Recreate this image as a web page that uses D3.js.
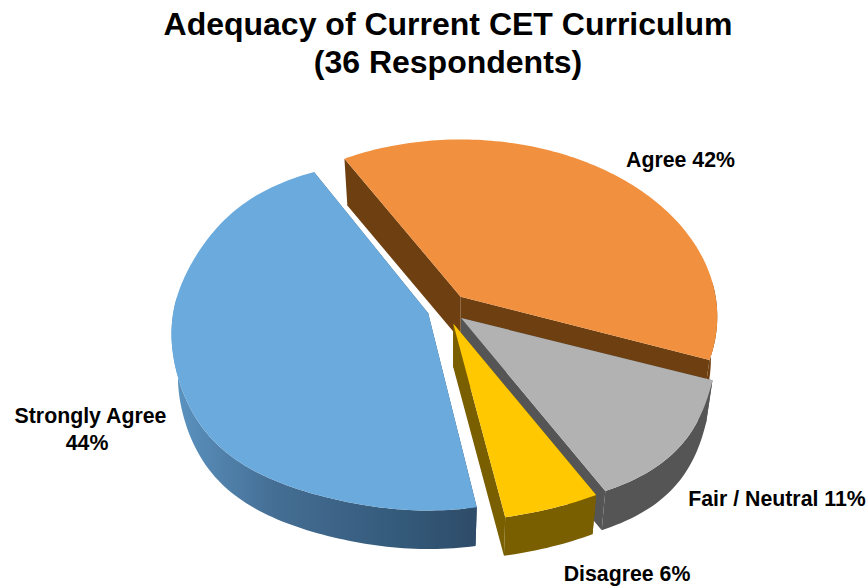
<!DOCTYPE html>
<html><head><meta charset="utf-8">
<script src="https://cdn.jsdelivr.net/npm/d3@7"></script>
<style>html,body{margin:0;padding:0;background:#fff}svg{display:block}
text{font-family:"Liberation Sans",Arial,sans-serif;font-weight:bold;fill:#000}</style>
</head><body><svg id="c" width="868" height="586"></svg>
<script>
const categories = ["Strongly Agree","Agree","Fair / Neutral","Disagree"];
const percents = [44,42,11,6];
const titleLines = ["Adequacy of Current CET Curriculum","(36 Respondents)"];
const topColors = ["#6aaadd","#f1913f","#b2b2b2","#ffc800"];
const wallColors = ["url(#blueWall)","#6e3f10","#555555","#7a5f00"];
const explode = [0.072,0.092,0.08,0.088];
const bulge = [0.03,0,0.045,0.03];
const edgeNudge = [[0.7,1],[0,0],[-0.5,2],[2,0]];
const labelLayout = [
  {text:"Strongly Agree",x:90.5,y:423},
  {text:"44%",x:87,y:450},
  {text:"Agree 42%",x:680.5,y:167},
  {text:"Fair / Neutral 11%",x:777,y:506},
  {text:"Disagree 6%",x:627,y:581}
];
const cx=445.5,cy=309,rx=255,ry=175,k=0.113,depth=43.5,shrink=0.025;
const svg=d3.select("#c");
const rad=d3.scaleLinear().domain([0,360]).range([0,2*Math.PI]);
const defs=svg.append("defs");
const g=defs.append("linearGradient").attr("id","blueWall").attr("gradientUnits","userSpaceOnUse")
  .attr("x1",175).attr("x2",475).attr("y1",0).attr("y2",0);
[[0,"#5b93c0"],[0.33,"#456e94"],[0.75,"#345a7a"],[1,"#2e4c69"]].forEach(s=>g.append("stop").attr("offset",s[0]).attr("stop-color",s[1]));

const warp=a=>a-rad(7)*(1-Math.cos(a+rad(30)))/2;
const pie=d3.pie().sort(null).startAngle(rad(-183.8)).endAngle(rad(176.2));
const arcs=pie(percents).map((d,i)=>{
  const a0=warp(d.startAngle)+rad(edgeNudge[i][0]),a1=warp(d.endAngle)+rad(edgeNudge[i][1]),mid=(a0+a1)/2;
  const ax=cx+explode[i]*rx*Math.sin(mid),ay=cy-explode[i]*ry*Math.cos(mid);
  return {i,a0,a1,ax,ay};
});
function proj(s,a,r,z){
  const b=1+bulge[s.i]*Math.pow(Math.sin(2*a),4);
  const u=Math.sin(a)*r*b,v=-Math.cos(a)*r*b,w=1-k*v,sc=1-shrink*z;
  return [s.ax+rx*u/w*sc, s.ay+ry*v/w*sc+depth*z];
}
const line=d3.line();
function angles(s){
  const n=Math.max(8,Math.ceil((s.a1-s.a0)/0.02));
  return d3.range(n+1).map(j=>s.a0+(s.a1-s.a0)*j/n);
}
function drawSlice(s){
  const G=svg.append("g").attr("class","slice");
  const c=wallColors[s.i];
  const wall=pts=>G.append("path").attr("d",line(pts)+"Z").attr("fill",c);
  const A0=proj(s,0,0,0),A1=proj(s,0,0,1);
  wall([A0,proj(s,s.a0,1,0),proj(s,s.a0,1,1),A1]);
  wall([A0,proj(s,s.a1,1,0),proj(s,s.a1,1,1),A1]);
  const front=angles(s).filter(a=>Math.cos(a)<0.1);
  wall(front.map(a=>proj(s,a,1,0)).concat(front.slice().reverse().map(a=>proj(s,a,1,1))));
  G.append("path").attr("d",line([A0].concat(angles(s).map(a=>proj(s,a,1,0))))+"Z").attr("fill",topColors[s.i]);
}
[1,2,3,0].forEach(i=>drawSlice(arcs[i]));

svg.selectAll("text.title").data(titleLines).enter().append("text").attr("class","title")
  .attr("x",448).attr("y",(d,i)=>35+i*38).attr("text-anchor","middle").attr("font-size",32).text(d=>d);
svg.selectAll("text.label").data(labelLayout).enter().append("text").attr("class","label")
  .attr("x",d=>d.x).attr("y",d=>d.y).attr("text-anchor","middle").attr("font-size",21.3).text(d=>d.text);
</script></body></html>
